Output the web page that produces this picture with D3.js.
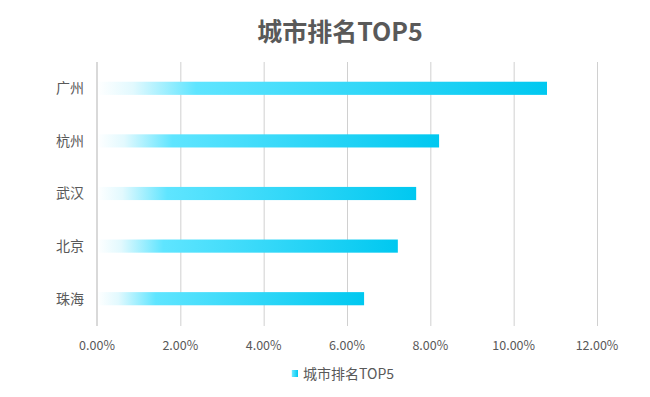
<!DOCTYPE html>
<html>
<head>
<meta charset="utf-8">
<script src="https://cdn.jsdelivr.net/npm/d3@7"></script>
<style>
  body { margin: 0; background: #fff; }
  text { font-family: "Noto Sans CJK SC", "Noto Sans", sans-serif; fill: #595959; }
</style>
</head>
<body>
<script>
/* data */
var cities = ['广州', '杭州', '武汉', '北京', '珠海']
var values = [0.108, 0.0821, 0.0766, 0.0722, 0.0641]
var ticks = [0, 0.02, 0.04, 0.06, 0.08, 0.10, 0.12]
var title = '城市排名TOP5'

/* setup */
var width = 650
var height = 397
var margin = { top: 62, right: 53, bottom: 72, left: 97 }

var svg = d3.select('body').append('svg')
    .attr('width', width)
    .attr('height', height)

var defs = svg.append('defs')
var grad = defs.append('linearGradient')
    .attr('id', 'barGrad')
    .attr('x1', '0%').attr('x2', '100%')
    .attr('y1', '0%').attr('y2', '0%')
grad.append('stop').attr('offset', '0%').attr('stop-color', '#ffffff')
grad.append('stop').attr('offset', '8%').attr('stop-color', '#e2f9fe')
grad.append('stop').attr('offset', '22%').attr('stop-color', '#5fe5ff')
grad.append('stop').attr('offset', '100%').attr('stop-color', '#00c8f0')

var x = d3.scaleLinear()
    .domain([0, 0.12])
    .range([margin.left, width - margin.right])

var y = d3.scaleBand()
    .domain(cities)
    .range([margin.top, height - margin.bottom])
    .paddingInner(0.75)
    .paddingOuter(0.375)

/* grid */
svg.append('g').selectAll('line').data(ticks.slice(1))
    .enter().append('line')
    .attr('x1', function(d) { return x(d) + 0.5 })
    .attr('x2', function(d) { return x(d) + 0.5 })
    .attr('y1', margin.top)
    .attr('y2', height - margin.bottom + 1)
    .attr('stroke', '#d0d0d0')
    .attr('stroke-width', 1)

/* bars */
svg.append('g').selectAll('rect').data(values)
    .enter().append('rect')
    .attr('x', x(0))
    .attr('y', function(d, i) { return y(cities[i]) })
    .attr('width', function(d) { return x(d) - x(0) })
    .attr('height', y.bandwidth())
    .attr('fill', 'url(#barGrad)')

/* y axis line */
svg.append('line')
    .attr('x1', x(0)).attr('x2', x(0))
    .attr('y1', margin.top)
    .attr('y2', height - margin.bottom + 1)
    .attr('stroke', '#d9d9d9')
    .attr('stroke-width', 2)

/* y labels */
svg.append('g').selectAll('text').data(cities)
    .enter().append('text')
    .attr('x', 84)
    .attr('y', function(d) { return y(d) + y.bandwidth() / 2 })
    .attr('dy', '0.35em')
    .attr('text-anchor', 'end')
    .style('font-size', '14px')
    .text(function(d) { return d })

/* x labels */
svg.append('g').selectAll('text').data(ticks)
    .enter().append('text')
    .attr('x', function(d) { return x(d) })
    .attr('y', 350)
    .attr('text-anchor', 'middle')
    .style('font-size', '12.5px')
    .text(function(d) { return d3.format('.2%')(d) })

/* title */
svg.append('text')
    .attr('x', 340)
    .attr('y', 41)
    .attr('text-anchor', 'middle')
    .style('font-size', '25px')
    .style('font-weight', 'bold')
    .text(title)

/* legend */
var legend = svg.append('g').attr('transform', 'translate(291,370)')
legend.append('rect')
    .attr('width', 7).attr('height', 7)
    .attr('fill', 'url(#barGrad)')
legend.append('text')
    .attr('x', 12)
    .attr('y', 4)
    .attr('dy', '0.35em')
    .style('font-size', '14px')
    .text(title)
</script>
</body>
</html>
